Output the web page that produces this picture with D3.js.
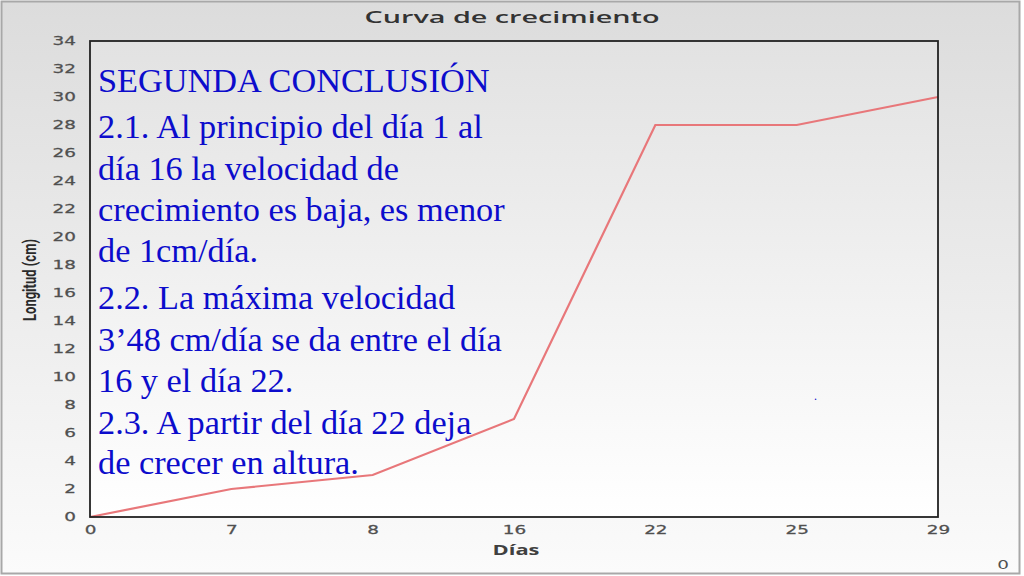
<!DOCTYPE html>
<html><head><meta charset="utf-8">
<script src="https://cdn.jsdelivr.net/npm/d3@7"></script>
<style>html,body{margin:0;padding:0;background:#fff;}svg{display:block;}</style>
</head><body>
<svg id="c" width="1024" height="576"></svg>
<script>
const dias = ["0","7","8","16","22","25","29"];
const longitud = [0, 2, 3, 7, 28, 28, 30];
const yTicks = [0,2,4,6,8,10,12,14,16,18,20,22,24,26,28,30,32,34];
const titulo = "Curva de crecimiento";
const xLabel = "Días";
const yLabel = "Longitud (cm)";
const textLines = [
  "SEGUNDA CONCLUSIÓN",
  "2.1. Al principio del día 1 al",
  "día 16 la velocidad de",
  "crecimiento es baja, es menor",
  "de 1cm/día.",
  "2.2. La máxima velocidad",
  "3’48 cm/día se da entre el día",
  "16 y el día 22.",
  "2.3. A partir del día 22 deja",
  "de crecer en altura."
];
const textBaselines = [92, 138, 180, 221, 262, 309, 351, 392, 434, 474];

const SX = 1.6; // horizontal stretch of the chart's sans text

const svg = d3.select("#c");
const defs = svg.append("defs");
const g1 = defs.append("linearGradient").attr("id","bg").attr("x1",0).attr("y1",0).attr("x2",0).attr("y2",1);
g1.append("stop").attr("offset","0%").attr("stop-color","#dcdcdc");
g1.append("stop").attr("offset","100%").attr("stop-color","#fbfbfb");
const g2 = defs.append("linearGradient").attr("id","pbg").attr("x1",0).attr("y1",0).attr("x2",0).attr("y2",1);
g2.append("stop").attr("offset","0%").attr("stop-color","#e2e2e2");
g2.append("stop").attr("offset","100%").attr("stop-color","#ffffff");

svg.append("rect").attr("x",0).attr("y",0).attr("width",1024).attr("height",576).attr("fill","#ffffff");
svg.append("rect").attr("x",1.5).attr("y",1.5).attr("width",1018).attr("height",572)
  .attr("fill","url(#bg)").attr("stroke","#a8a8a8").attr("stroke-width",2);

const L = 90, R = 938, T = 41, B = 517;
const x = d3.scalePoint().domain(dias).range([L, R]);
const y = d3.scaleLinear().domain([0, 34]).range([B, T]);

svg.append("rect").attr("x",L).attr("y",T).attr("width",R-L).attr("height",B-T).attr("fill","url(#pbg)");

// title
svg.append("text").attr("x",512).attr("y",23).attr("text-anchor","middle")
  .attr("font-family","'Open Sans', sans-serif").attr("font-weight",600).attr("font-size",16.5)
  .attr("textLength",295).attr("lengthAdjust","spacingAndGlyphs")
  .attr("fill","#333").text(titulo);

// y axis
const yPad = 14;
const yAxis = d3.axisLeft(y).tickValues(yTicks).tickSize(0).tickPadding(yPad);
const ya = svg.append("g").attr("transform",`translate(${L},0)`).call(yAxis);
ya.select(".domain").remove();
ya.selectAll("text").attr("font-family","'DejaVu Sans', sans-serif").attr("font-size",11.5)
  .attr("fill","#505050").attr("stroke","#505050").attr("stroke-width",0.25)
  .attr("x",-yPad/SX).attr("transform",`scale(${SX},1)`);

// x axis
const xAxis = d3.axisBottom(x).tickSize(0).tickPadding(9);
const xa = svg.append("g").attr("transform",`translate(0,${B})`).call(xAxis);
xa.select(".domain").remove();
xa.selectAll("text").attr("font-family","'DejaVu Sans', sans-serif").attr("font-size",11.5)
  .attr("fill","#505050").attr("stroke","#505050").attr("stroke-width",0.25)
  .attr("transform",`scale(${SX},1)`);

// axis labels
svg.append("text").attr("x",516).attr("y",555).attr("text-anchor","middle")
  .attr("font-family","'Open Sans', sans-serif").attr("font-weight",700).attr("font-size",14)
  .attr("textLength",47).attr("lengthAdjust","spacingAndGlyphs")
  .attr("fill","#404040").text(xLabel);
svg.append("text").attr("transform","translate(36,280) rotate(-90)").attr("text-anchor","middle")
  .attr("font-family","'Liberation Sans Narrow', 'Roboto', sans-serif").attr("font-weight",700).attr("font-size",19)
  .attr("textLength",82).attr("lengthAdjust","spacingAndGlyphs")
  .attr("fill","#2a2a2a").text(yLabel);

// line
const line = d3.line().x((d,i)=>x(dias[i])).y(d=>y(d));
svg.append("path").datum(longitud).attr("d",line).attr("fill","none")
  .attr("stroke","#e8777a").attr("stroke-width",2.2);

// frame
svg.append("rect").attr("x",L).attr("y",T).attr("width",R-L).attr("height",B-T)
  .attr("fill","none").attr("stroke","#222").attr("stroke-width",1.8);

// overlay text
const tg = svg.append("g").attr("font-family","'Liberation Serif', 'Times New Roman', serif")
  .attr("font-size",34.3).attr("fill","#0c0ccc");
tg.selectAll("text").data(textLines).join("text")
  .attr("x",98).attr("y",(d,i)=>textBaselines[i]).text(d=>d);
tg.append("text").attr("x",814).attr("y",400).attr("font-size",12).text(".");

// slide number
svg.append("text").attr("transform","translate(1003,569) scale(1.6,1)").attr("text-anchor","middle")
  .attr("font-family","'DejaVu Sans', sans-serif").attr("font-size",11.5).attr("fill","#505050").text("0");
</script>
</body></html>
